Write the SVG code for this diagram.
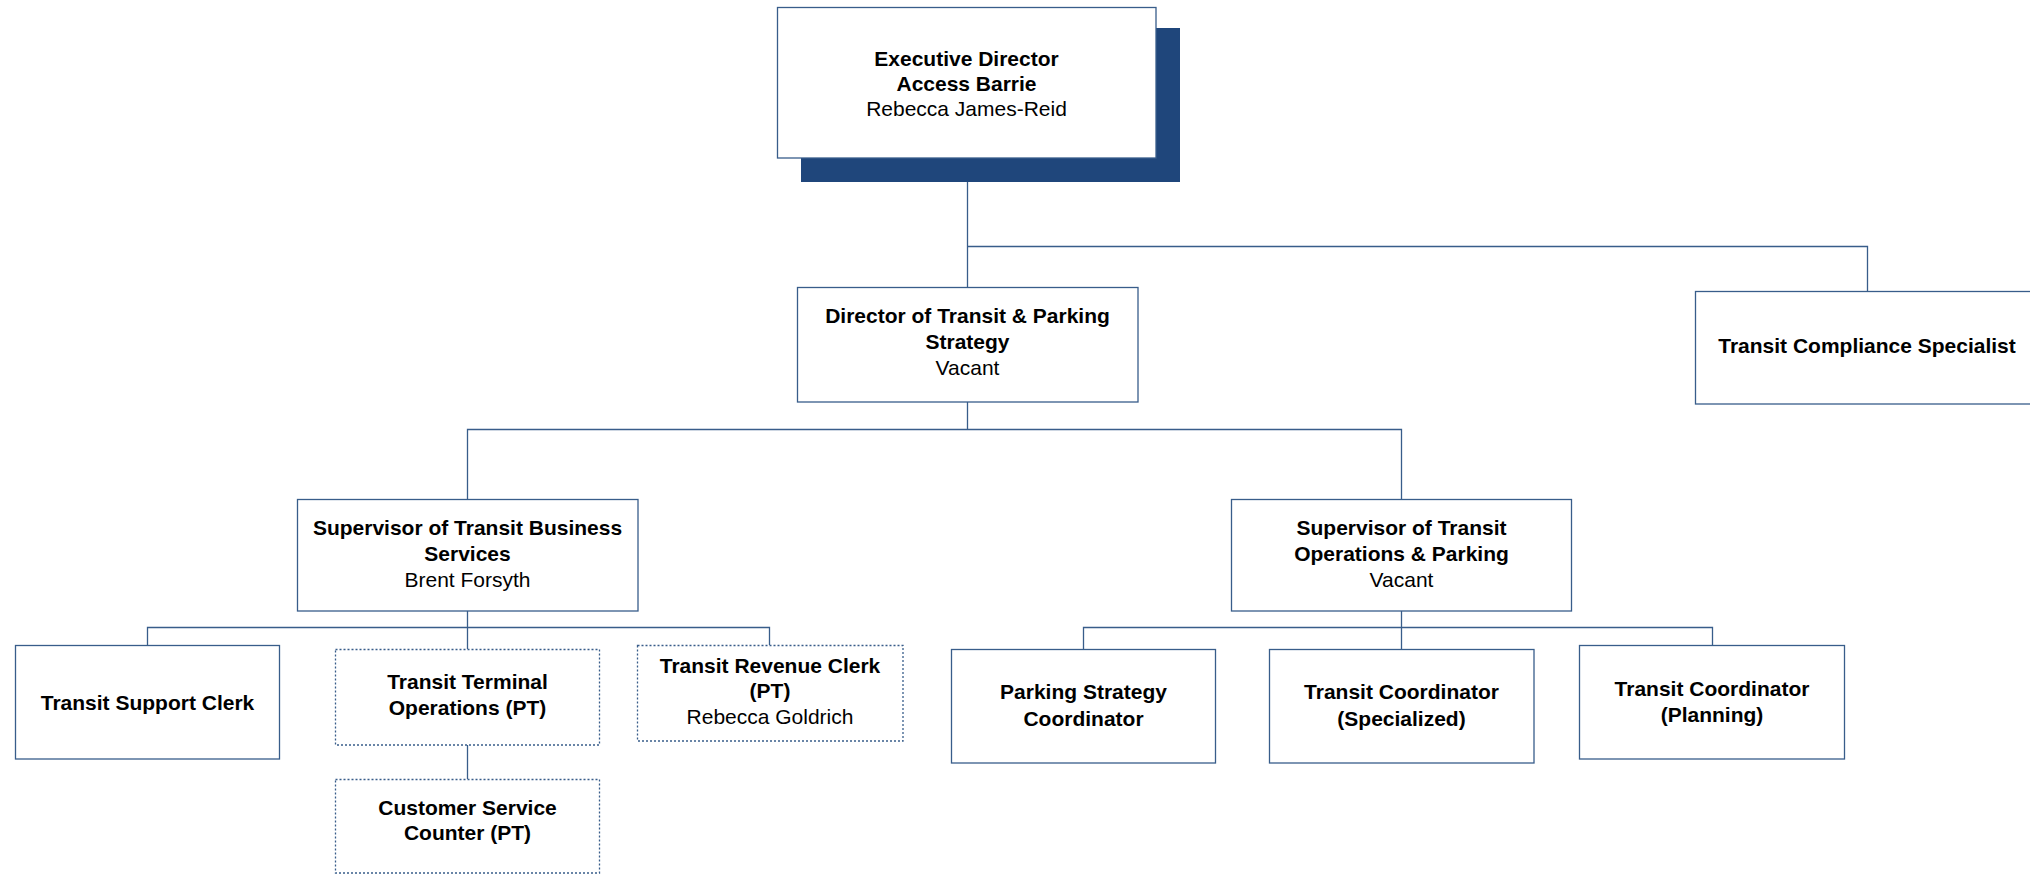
<svg xmlns="http://www.w3.org/2000/svg" width="2030" height="876" viewBox="0 0 2030 876">
<style>
.box{fill:#fff;stroke:#385D8A;stroke-width:1.3}
.dot{fill:#fff;stroke:#385D8A;stroke-width:1.3;stroke-dasharray:2 2}
.ln{fill:none;stroke:#385D8A;stroke-width:1.3}
text{font-family:"Liberation Sans",Arial,sans-serif;font-size:20px;fill:#000;text-anchor:middle}
.b{font-weight:bold}
</style>
<rect width="2030" height="876" fill="#fff"/>
<g id="connectors">
<path class="ln" d="M967.5 158V287"/>
<path class="ln" d="M967.5 246.5H1867.5V291"/>
<path class="ln" d="M967.5 402V429.5M467.5 499V429.5H1401.5V499"/>
<path class="ln" d="M467.5 611V627.5M147.5 645V627.5H769.5V645M467.5 627.5V649"/>
<path class="ln" d="M467.5 745V779"/>
<path class="ln" d="M1401.5 611V627.5M1083.5 649V627.5H1712.5V645M1401.5 627.5V649"/>
</g>
<g id="exec">
<rect x="801" y="28" width="379" height="154" fill="#1F467B"/>
<rect class="box" x="777.5" y="7.5" width="378.5" height="150.5"/>
<g transform="translate(966.5,0) scale(1.05,1)">
<text class="b" x="0" y="66">Executive Director</text>
<text class="b" x="0" y="91">Access Barrie</text>
<text x="0" y="116">Rebecca James-Reid</text>
</g>
</g>
<g id="director">
<rect class="box" x="797.5" y="287.5" width="340.5" height="114.5"/>
<g transform="translate(967.5,0) scale(1.05,1)">
<text class="b" x="0" y="323">Director of Transit &amp; Parking</text>
<text class="b" x="0" y="349">Strategy</text>
<text x="0" y="375">Vacant</text>
</g>
</g>
<g id="compliance">
<rect class="box" x="1695.5" y="291.5" width="344" height="112.5"/>
<g transform="translate(1867,0) scale(1.05,1)">
<text class="b" x="0" y="353">Transit Compliance Specialist</text>
</g>
</g>
<g id="sup-business">
<rect class="box" x="297.5" y="499.5" width="340.5" height="111.5"/>
<g transform="translate(467.5,0) scale(1.05,1)">
<text class="b" x="0" y="535">Supervisor of Transit Business</text>
<text class="b" x="0" y="561">Services</text>
<text x="0" y="587">Brent Forsyth</text>
</g>
</g>
<g id="sup-ops">
<rect class="box" x="1231.5" y="499.5" width="340" height="111.5"/>
<g transform="translate(1401.5,0) scale(1.05,1)">
<text class="b" x="0" y="535">Supervisor of Transit</text>
<text class="b" x="0" y="561">Operations &amp; Parking</text>
<text x="0" y="587">Vacant</text>
</g>
</g>
<g id="support-clerk">
<rect class="box" x="15.5" y="645.5" width="264" height="113.5"/>
<g transform="translate(147.5,0) scale(1.05,1)">
<text class="b" x="0" y="710">Transit Support Clerk</text>
</g>
</g>
<g id="terminal">
<rect class="dot" x="335.5" y="649.5" width="264" height="95.5"/>
<g transform="translate(467.5,0) scale(1.05,1)">
<text class="b" x="0" y="689">Transit Terminal</text>
<text class="b" x="0" y="715">Operations (PT)</text>
</g>
</g>
<g id="revenue-clerk">
<rect class="dot" x="637.5" y="645.5" width="265.5" height="95.5"/>
<g transform="translate(770,0) scale(1.05,1)">
<text class="b" x="0" y="673">Transit Revenue Clerk</text>
<text class="b" x="0" y="698">(PT)</text>
<text x="0" y="724">Rebecca Goldrich</text>
</g>
</g>
<g id="customer-service">
<rect class="dot" x="335.5" y="779.5" width="264" height="93.5"/>
<g transform="translate(467.5,0) scale(1.05,1)">
<text class="b" x="0" y="815">Customer Service</text>
<text class="b" x="0" y="840">Counter (PT)</text>
</g>
</g>
<g id="parking-coord">
<rect class="box" x="951.5" y="649.5" width="264" height="113.5"/>
<g transform="translate(1083.5,0) scale(1.05,1)">
<text class="b" x="0" y="699">Parking Strategy</text>
<text class="b" x="0" y="726">Coordinator</text>
</g>
</g>
<g id="coord-specialized">
<rect class="box" x="1269.5" y="649.5" width="264.5" height="113.5"/>
<g transform="translate(1401.5,0) scale(1.05,1)">
<text class="b" x="0" y="699">Transit Coordinator</text>
<text class="b" x="0" y="726">(Specialized)</text>
</g>
</g>
<g id="coord-planning">
<rect class="box" x="1579.5" y="645.5" width="265" height="113.5"/>
<g transform="translate(1712,0) scale(1.05,1)">
<text class="b" x="0" y="696">Transit Coordinator</text>
<text class="b" x="0" y="722">(Planning)</text>
</g>
</g>
</svg>
